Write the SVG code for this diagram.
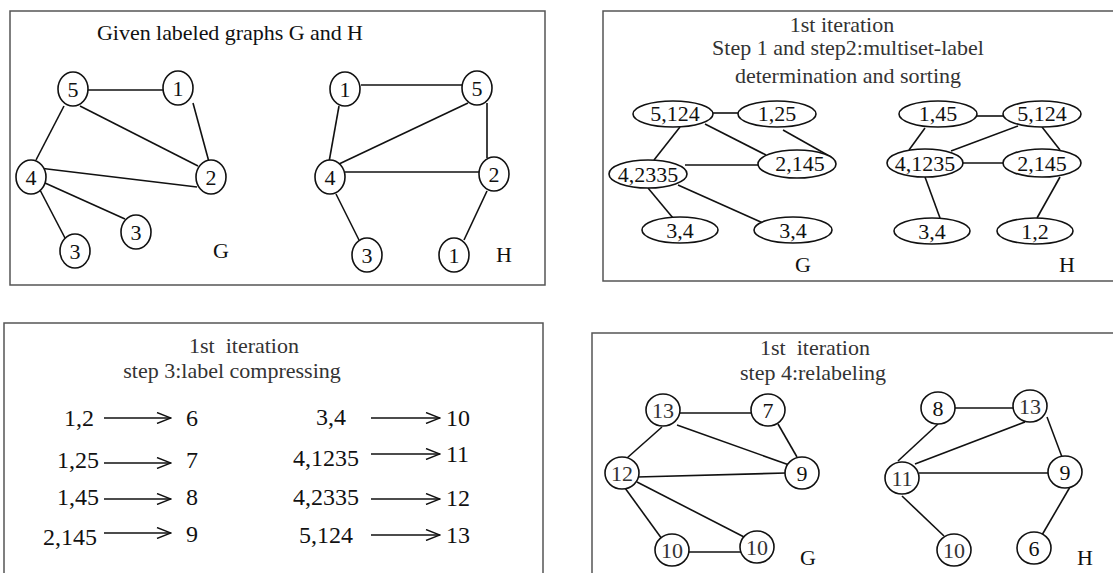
<svg xmlns="http://www.w3.org/2000/svg" width="1113" height="573" viewBox="0 0 1113 573">
<style>
.panel{fill:none;stroke:#555;stroke-width:1.5}
.e{stroke:#111;stroke-width:1.6;fill:none}
.n{fill:#fff;stroke:#111;stroke-width:1.6}
.t{font-family:"Liberation Serif","Times New Roman",serif;fill:#111}
.g{fill:#333}
.lbl{font-size:22px;text-anchor:middle}
.ttl{font-size:22px}
.row{font-size:24px}
.ar{stroke:#111;stroke-width:1.4;fill:none;marker-end:url(#chev)}
</style>
<defs>
<marker id="chev" viewBox="0 0 16 12" refX="15" refY="6" markerWidth="16" markerHeight="12" orient="auto" markerUnits="userSpaceOnUse">
<path d="M1,0.5 L15,6 L1,11.5" fill="none" stroke="#111" stroke-width="1.4"/>
</marker>
</defs>
<rect width="1113" height="573" fill="#fff"/>

<!-- Panels -->
<g id="panel1"><rect class="panel" x="10" y="11" width="535" height="274"/>
<text class="t ttl" x="97" y="40" textLength="266">Given labeled graphs G and H</text></g>
<g id="panel2"><path class="panel" d="M1120,11 H603 V281 H1120"/>
<text class="t ttl g" x="842" y="32" text-anchor="middle">1st iteration</text>
<text class="t ttl g" x="848" y="55" text-anchor="middle">Step 1 and step2:multiset-label</text>
<text class="t ttl g" x="848" y="83" text-anchor="middle">determination and sorting</text></g>
<g id="panel3"><path class="panel" d="M4,580 V323 H543 V580"/>
<text class="t ttl g" x="244" y="353" text-anchor="middle" xml:space="preserve">1st  iteration</text>
<text class="t ttl g" x="232" y="378" text-anchor="middle">step 3:label compressing</text></g>
<g id="panel4"><path class="panel" d="M1120,333 H592 V580"/>
<text class="t ttl g" x="815" y="355" text-anchor="middle" xml:space="preserve">1st  iteration</text>
<text class="t ttl g" x="813" y="380" text-anchor="middle">step 4:relabeling</text></g>

<!-- Connectors -->
<g id="connectors">
<!-- panel 1 G -->
<line class="e" x1="88" y1="90" x2="163" y2="90"/>
<line class="e" x1="64" y1="106" x2="36" y2="160"/>
<line class="e" x1="80" y1="106" x2="198" y2="166"/>
<line class="e" x1="193" y1="103" x2="209" y2="162"/>
<line class="e" x1="39" y1="168" x2="197" y2="187"/>
<line class="e" x1="45" y1="183" x2="125" y2="219"/>
<line class="e" x1="40" y1="190" x2="65" y2="238"/>
<!-- panel 1 H -->
<line class="e" x1="361" y1="85" x2="463" y2="85"/>
<line class="e" x1="339" y1="106" x2="329" y2="162"/>
<line class="e" x1="468" y1="103" x2="339" y2="164"/>
<line class="e" x1="487" y1="103" x2="487" y2="158"/>
<line class="e" x1="345" y1="172" x2="480" y2="172"/>
<line class="e" x1="336" y1="194" x2="359" y2="240"/>
<line class="e" x1="487" y1="191" x2="464" y2="240"/>
<!-- panel 2 G -->
<line class="e" x1="712" y1="113" x2="739" y2="113"/>
<line class="e" x1="705" y1="124" x2="766" y2="155"/>
<line class="e" x1="783" y1="130" x2="831" y2="157"/>
<line class="e" x1="680" y1="127" x2="654" y2="160"/>
<line class="e" x1="685" y1="165" x2="759" y2="165"/>
<line class="e" x1="648" y1="188" x2="673" y2="218"/>
<line class="e" x1="678" y1="185" x2="763" y2="223"/>
<!-- panel 2 H -->
<line class="e" x1="976" y1="116" x2="1003" y2="116"/>
<line class="e" x1="925" y1="128" x2="909" y2="150"/>
<line class="e" x1="1018" y1="126" x2="951" y2="151"/>
<line class="e" x1="1042" y1="127" x2="1060" y2="150"/>
<line class="e" x1="962" y1="163" x2="1003" y2="163"/>
<line class="e" x1="925" y1="177" x2="940" y2="218"/>
<line class="e" x1="1060" y1="177" x2="1037" y2="218"/>
<!-- panel 3 arrows -->
<line class="ar" x1="104" y1="418" x2="171" y2="418"/>
<line class="ar" x1="104" y1="463" x2="171" y2="463"/>
<line class="ar" x1="104" y1="499" x2="171" y2="499"/>
<line class="ar" x1="104" y1="533" x2="171" y2="533"/>
<line class="ar" x1="371" y1="418" x2="440" y2="418"/>
<line class="ar" x1="371" y1="454" x2="440" y2="454"/>
<line class="ar" x1="371" y1="499" x2="440" y2="499"/>
<line class="ar" x1="371" y1="535" x2="440" y2="535"/>
<!-- panel 4 G -->
<line class="e" x1="680" y1="413" x2="752" y2="413"/>
<line class="e" x1="662" y1="427" x2="627" y2="458"/>
<line class="e" x1="677" y1="425" x2="792" y2="466"/>
<line class="e" x1="778" y1="424" x2="797" y2="457"/>
<line class="e" x1="637" y1="477" x2="786" y2="473"/>
<line class="e" x1="625" y1="488" x2="662" y2="539"/>
<line class="e" x1="637" y1="482" x2="748" y2="539"/>
<line class="e" x1="689" y1="552" x2="747" y2="552"/>
<!-- panel 4 H -->
<line class="e" x1="954" y1="408" x2="1015" y2="408"/>
<line class="e" x1="938" y1="424" x2="898" y2="461"/>
<line class="e" x1="1025" y1="422" x2="915" y2="464"/>
<line class="e" x1="1047" y1="417" x2="1062" y2="457"/>
<line class="e" x1="919" y1="473" x2="1050" y2="473"/>
<line class="e" x1="902" y1="496" x2="944" y2="536"/>
<line class="e" x1="1070" y1="487" x2="1042" y2="535"/>
</g>

<!-- Panel 1 nodes G -->
<g id="p1G5"><ellipse class="n" cx="73" cy="89" rx="15" ry="17"/><text class="t lbl" x="73" y="97">5</text></g>
<g id="p1G1"><ellipse class="n" cx="178" cy="88" rx="15" ry="17"/><text class="t lbl" x="178" y="96">1</text></g>
<g id="p1G4"><ellipse class="n" cx="31" cy="177" rx="15" ry="17"/><text class="t lbl" x="31" y="185">4</text></g>
<g id="p1G2"><ellipse class="n" cx="211" cy="177" rx="15" ry="17"/><text class="t lbl" x="211" y="185">2</text></g>
<g id="p1G3a"><ellipse class="n" cx="136" cy="232" rx="15" ry="17"/><text class="t lbl" x="136" y="240">3</text></g>
<g id="p1G3b"><ellipse class="n" cx="75" cy="251" rx="15" ry="17"/><text class="t lbl" x="75" y="259">3</text></g>
<text class="t lbl" x="221" y="258">G</text>
<!-- Panel 1 nodes H -->
<g id="p1H1"><ellipse class="n" cx="345" cy="89" rx="15" ry="17"/><text class="t lbl" x="345" y="97">1</text></g>
<g id="p1H5"><ellipse class="n" cx="477" cy="88" rx="15" ry="17"/><text class="t lbl" x="477" y="96">5</text></g>
<g id="p1H4"><ellipse class="n" cx="330" cy="177" rx="15" ry="17"/><text class="t lbl" x="330" y="185">4</text></g>
<g id="p1H2"><ellipse class="n" cx="494" cy="174" rx="15" ry="17"/><text class="t lbl" x="494" y="182">2</text></g>
<g id="p1H3"><ellipse class="n" cx="367" cy="255" rx="15" ry="17"/><text class="t lbl" x="367" y="263">3</text></g>
<g id="p1H1b"><ellipse class="n" cx="454" cy="255" rx="15" ry="17"/><text class="t lbl" x="454" y="263">1</text></g>
<text class="t lbl" x="504" y="262">H</text>

<!-- Panel 2 nodes G -->
<g id="p2G5124"><ellipse class="n" cx="673" cy="114" rx="40" ry="13"/><text class="t lbl" x="675" y="121">5,124</text></g>
<g id="p2G125"><ellipse class="n" cx="777" cy="114" rx="39" ry="13"/><text class="t lbl" x="777" y="121">1,25</text></g>
<g id="p2G2145"><ellipse class="n" cx="797" cy="164" rx="39" ry="14"/><text class="t lbl" x="800" y="171">2,145</text></g>
<g id="p2G42335"><ellipse class="n" cx="648" cy="174" rx="39" ry="14"/><text class="t lbl" x="648" y="182">4,2335</text></g>
<g id="p2G34a"><ellipse class="n" cx="680" cy="230" rx="38" ry="13"/><text class="t lbl" x="680" y="238">3,4</text></g>
<g id="p2G34b"><ellipse class="n" cx="793" cy="230" rx="39" ry="13"/><text class="t lbl" x="793" y="238">3,4</text></g>
<text class="t lbl" x="803" y="272">G</text>
<!-- Panel 2 nodes H -->
<g id="p2H145"><ellipse class="n" cx="938" cy="114" rx="39" ry="13"/><text class="t lbl" x="938" y="121">1,45</text></g>
<g id="p2H5124"><ellipse class="n" cx="1042" cy="114" rx="39" ry="13"/><text class="t lbl" x="1042" y="121">5,124</text></g>
<g id="p2H41235"><ellipse class="n" cx="925" cy="163" rx="38" ry="14"/><text class="t lbl" x="925" y="171">4,1235</text></g>
<g id="p2H2145"><ellipse class="n" cx="1042" cy="163" rx="39" ry="14"/><text class="t lbl" x="1042" y="171">2,145</text></g>
<g id="p2H34"><ellipse class="n" cx="932" cy="231" rx="38" ry="13"/><text class="t lbl" x="932" y="239">3,4</text></g>
<g id="p2H12"><ellipse class="n" cx="1035" cy="231" rx="38" ry="13"/><text class="t lbl" x="1035" y="239">1,2</text></g>
<text class="t lbl" x="1067" y="272">H</text>

<!-- Panel 3 rows -->
<g id="p3rows" class="t row">
<text x="64" y="426">1,2</text><text x="186" y="426">6</text>
<text x="57" y="468">1,25</text><text x="186" y="468">7</text>
<text x="57" y="505">1,45</text><text x="186" y="505">8</text>
<text x="43" y="545">2,145</text><text x="186" y="542">9</text>
<text x="316" y="425">3,4</text><text x="446" y="426">10</text>
<text x="293" y="466">4,1235</text><text x="446" y="462">11</text>
<text x="293" y="505">4,2335</text><text x="446" y="506">12</text>
<text x="299" y="543">5,124</text><text x="446" y="543">13</text>
</g>

<!-- Panel 4 nodes G -->
<g id="p4G13"><ellipse class="n" cx="663" cy="410" rx="17" ry="16"/><text class="t lbl g" x="663" y="418">13</text></g>
<g id="p4G7"><ellipse class="n" cx="768" cy="410" rx="17" ry="16"/><text class="t lbl" x="768" y="418">7</text></g>
<g id="p4G12"><ellipse class="n" cx="622" cy="473" rx="17" ry="16"/><text class="t lbl g" x="622" y="481">12</text></g>
<g id="p4G9"><ellipse class="n" cx="802" cy="473" rx="17" ry="16"/><text class="t lbl" x="802" y="481">9</text></g>
<g id="p4G10a"><ellipse class="n" cx="672" cy="550" rx="17" ry="16"/><text class="t lbl g" x="672" y="558">10</text></g>
<g id="p4G10b"><ellipse class="n" cx="757" cy="547" rx="17" ry="16"/><text class="t lbl g" x="757" y="555">10</text></g>
<text class="t lbl" x="808" y="565">G</text>
<!-- Panel 4 nodes H -->
<g id="p4H8"><ellipse class="n" cx="938" cy="408" rx="17" ry="16"/><text class="t lbl" x="938" y="416">8</text></g>
<g id="p4H13"><ellipse class="n" cx="1030" cy="406" rx="17" ry="16"/><text class="t lbl g" x="1030" y="414">13</text></g>
<g id="p4H11"><ellipse class="n" cx="902" cy="478" rx="17" ry="16"/><text class="t lbl g" x="902" y="486">11</text></g>
<g id="p4H9"><ellipse class="n" cx="1065" cy="472" rx="17" ry="16"/><text class="t lbl" x="1065" y="480">9</text></g>
<g id="p4H10"><ellipse class="n" cx="954" cy="550" rx="17" ry="16"/><text class="t lbl g" x="954" y="558">10</text></g>
<g id="p4H6"><ellipse class="n" cx="1034" cy="548" rx="17" ry="16"/><text class="t lbl" x="1034" y="556">6</text></g>
<text class="t lbl" x="1085" y="565">H</text>
</svg>
